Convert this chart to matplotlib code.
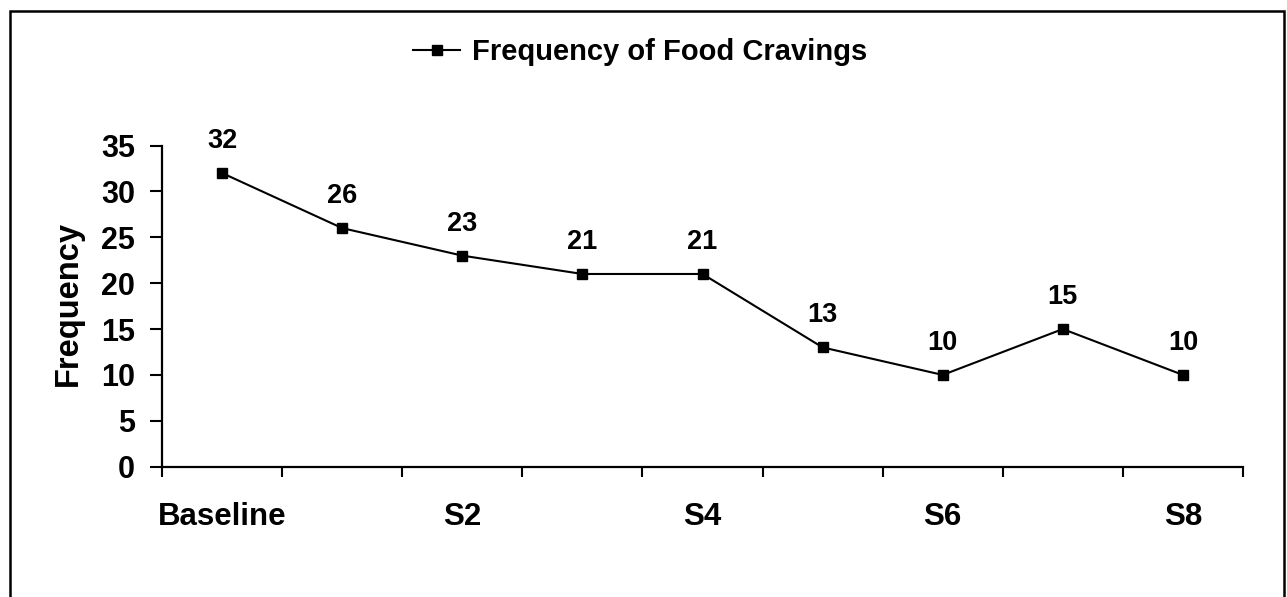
import matplotlib.pyplot as plt
from matplotlib.patches import Rectangle
import numpy as np

# Data
sessions = ["Baseline", "S1", "S2", "S3", "S4", "S5", "S6", "S7", "S8"]
cravings = [32, 26, 23, 21, 21, 13, 10, 15, 10]
y_ticks = [0, 5, 10, 15, 20, 25, 30, 35]

plt.rcParams["font.family"] = ["Liberation Sans", "DejaVu Sans"]
plt.rcParams["font.weight"] = "bold"

fig = plt.figure(figsize=(12.87, 5.97), dpi=100)
W, H = 1287, 597
ax = fig.add_axes([162 / W, (H - 466.7) / H, (1243 - 162) / W, (466.7 - 145.5) / H])

x = np.arange(len(sessions))
line, = ax.plot(x, cravings, color="black", lw=1.5, marker="s", markersize=7.5,
                label="Frequency of Food Cravings")

for xi, yi in zip(x, cravings):
    ax.annotate(str(yi), (xi, yi), xytext=(0, 23), textcoords="offset points",
                ha="center", va="center", fontsize=19.5, fontweight="bold")

ax.set_xlim(-0.5, len(sessions) - 0.5)
ax.set_ylim(0, 35)
ax.set_yticks(y_ticks)
ax.tick_params(axis="y", direction="out", length=8.5, width=1.5, labelsize=22, pad=11)

# category labels on every other session, tick marks between categories
ax.set_xticks(x[::2])
ax.set_xticklabels(sessions[::2])
ax.set_xticks(np.arange(-0.5, len(sessions)), minor=True)
ax.tick_params(axis="x", which="major", length=0, labelsize=22.5, pad=25.5)
ax.tick_params(axis="x", which="minor", direction="out", length=7.5, width=1.5)

for s in ["top", "right"]:
    ax.spines[s].set_visible(False)
for s in ["left", "bottom"]:
    ax.spines[s].set_linewidth(1.6)

ax.set_ylabel("Frequency", fontsize=23.5, fontweight="bold")
ax.yaxis.set_label_coords((84 - 162) / (1243 - 162), (466.7 - 304) / (466.7 - 145.5))

fig.legend(handles=[line], loc="center", bbox_to_anchor=(640 / W, (H - 52) / H),
           frameon=False, handlelength=1.6, handletextpad=0.4,
           prop={"weight": "bold", "size": 21})

# outer chart border
fig.patches.append(Rectangle((10 / W, -0.05), (1284 - 10) / W, (H - 11) / H + 0.05,
                             transform=fig.transFigure, fill=False,
                             edgecolor="black", lw=1.8))

fig.savefig("out.png", dpi=100, facecolor="white")
